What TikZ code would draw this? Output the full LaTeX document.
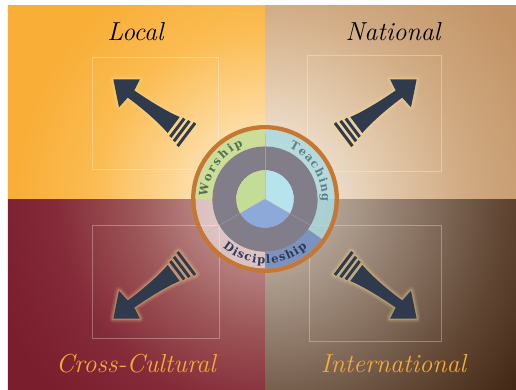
\documentclass[tikz,border=0pt]{standalone}
\usepackage{fontspec}
\usepackage{tikz}
\usetikzlibrary{decorations.text}

\newfontfamily\ringserif{DejaVu Serif}

% 色
\definecolor{ringorange}{HTML}{C47834}
\definecolor{ringgray}{HTML}{827E89}
\definecolor{wgreen}{HTML}{C3DD97}
\definecolor{tblue}{HTML}{B7E3EC}
\definecolor{dblue}{HTML}{8DA9D9}
\definecolor{bandgreen}{HTML}{C6DD96}
\definecolor{bandteal}{HTML}{A8DAE2}
\definecolor{bandblue}{HTML}{7A92C0}
\definecolor{arrowblue}{HTML}{2F3A4D}
\definecolor{glowyellow}{HTML}{F7DC8C}
\definecolor{labelorange}{HTML}{F5AA3A}
\definecolor{wtext}{HTML}{55704E}
\definecolor{ttext}{HTML}{5E8089}
\definecolor{dtext}{HTML}{2D3A5A}

% 背景の色
\definecolor{tlA}{HTML}{FFF6E8}\definecolor{tlB}{HTML}{FEE9C6}\definecolor{tlC}{HTML}{FDD592}
\definecolor{tlD}{HTML}{FBBC52}\definecolor{tlE}{HTML}{F9AE38}
\definecolor{trA}{HTML}{F8F4EE}\definecolor{trB}{HTML}{F1E6D8}\definecolor{trC}{HTML}{E2C8AA}
\definecolor{trD}{HTML}{D0AA82}\definecolor{trE}{HTML}{C29365}
\definecolor{blA}{HTML}{CFA8A6}\definecolor{blB}{HTML}{BA8886}\definecolor{blC}{HTML}{9D5758}
\definecolor{blD}{HTML}{842A38}\definecolor{blE}{HTML}{7A1D2C}
\definecolor{brA}{HTML}{CEC3B9}\definecolor{brB}{HTML}{B7A89A}\definecolor{brC}{HTML}{8B7565}
\definecolor{brD}{HTML}{5F4532}\definecolor{brE}{HTML}{3C200F}

\pgfdeclareradialshading{shadelocal}{\pgfpoint{0bp}{0bp}}{color(0bp)=(tlA); color(3bp)=(tlB); color(7.3bp)=(tlC); color(12.9bp)=(tlD); color(18.9bp)=(tlE); color(50bp)=(tlE)}
\pgfdeclareradialshading{shadenational}{\pgfpoint{0bp}{0bp}}{color(0bp)=(trA); color(3bp)=(trB); color(9.1bp)=(trC); color(15.2bp)=(trD); color(22.7bp)=(trE); color(50bp)=(trE)}
\pgfdeclareradialshading{shadecross}{\pgfpoint{0bp}{0bp}}{color(0bp)=(blA); color(4.5bp)=(blB); color(9.8bp)=(blC); color(15.9bp)=(blD); color(21.8bp)=(blE); color(50bp)=(blE)}
\pgfdeclareradialshading{shadeintl}{\pgfpoint{0bp}{0bp}}{color(0bp)=(brA); color(4.5bp)=(brB); color(11.4bp)=(brC); color(18.2bp)=(brD); color(25bp)=(brE); color(50bp)=(brE)}

% 矢印の形
\newcommand{\flarepath}{(75.7,0) -- (54.5,-16.1) -- (52.3,-3.8)
  .. controls (30,-4.8) and (12,-7) .. (0,-10) -- (0,10)
  .. controls (12,7.5) and (30,5.6) .. (53.2,5.8) -- (54.3,18.9) -- cycle
  (-6,-11.5) rectangle (-3,11.5)
  (-11.5,-12.8) rectangle (-8.5,12.8)
  (-17.3,-14.5) rectangle (-14.3,14.5)}
\newcommand{\ringfont}{\ringserif\bfseries\fontsize{11.5}{13}\selectfont}

\begin{document}
\begin{tikzpicture}[x=1pt, y=1pt,
    quadlabel/.style={font=\itshape\fontsize{26}{30}\selectfont, anchor=base, inner sep=0pt},
    framebox/.style={draw=white, draw opacity=.3, line width=.6pt},
    glowline/.style={glowyellow, line join=round},
    ringtext/.style={decorate, font=\ringfont}]

    \useasboundingbox (-265,-190) rectangle (251,199);
    \fill[white] (-265,-190) rectangle (251,199);

    % 背景
    \foreach \sh/\xa/\ya/\xb/\yb in {shadelocal/-257/0/0/194, shadenational/0/0/251/194,
                                     shadecross/-257/-190/0/0, shadeintl/0/-190/251/0} {
        \begin{scope}
            \clip (\xa,\ya) rectangle (\xb,\yb);
            \shade[shading=\sh] (-330,-330) rectangle (330,330);
        \end{scope}
    }

    % 枠
    \draw[framebox] (-173,142) rectangle (-47,30);
    \draw[framebox] (42,144) rectangle (176,28);
    \draw[framebox] (-173,-26) rectangle (-46,-139);
    \draw[framebox] (44,-26) rectangle (176,-142);

    % 矢印
    \foreach \sx/\sy in {1/1, -1/1, 1/-1, -1/-1} {
        \begin{scope}[xscale=\sx, yscale=\sy, shift={(-91.3,74)}, rotate=142.9]
            \draw[glowline, opacity=.1, line width=8pt] \flarepath;
            \draw[glowline, opacity=.15, line width=5pt] \flarepath;
            \draw[glowline, opacity=.25, line width=2.5pt] \flarepath;
            \fill[arrowblue] \flarepath;
        \end{scope}
    }

    % 外側の帯
    \foreach \a/\b/\c/\o in {90/180/bandgreen/.9, 180/270/white/.5, 270/325/bandblue/.95, -35/90/bandteal/.8}
        \fill[\c, opacity=\o] (\a:69.5) arc[start angle=\a, end angle=\b, radius=69.5]
            -- (\b:52.6) arc[start angle=\b, end angle=\a, radius=52.6] -- cycle;

    % 灰色のリング
    \fill[ringgray, even odd rule] (0,0) circle (52.6) (0,0) circle (28.7);

    % 中心の扇形
    \fill[wgreen] (0,0) -- (90:28.7) arc[start angle=90, end angle=210, radius=28.7] -- cycle;
    \fill[dblue] (0,0) -- (210:28.7) arc[start angle=210, end angle=330, radius=28.7] -- cycle;
    \fill[tblue] (0,0) -- (-30:28.7) arc[start angle=-30, end angle=90, radius=28.7] -- cycle;
    \foreach \a in {90, 210, 330}
        \draw[gray!60, opacity=.6, line width=.4pt] (0,0) -- (\a:66);

    % オレンジのリング
    \draw[ringorange, line width=4.3pt] (0,0) circle (71.8);

    % 帯の文字
    \path[ringtext, decoration={text along path, text align={fit to path},
        text color=wtext, text={|\ringfont|Worship}}] (178:57.5) arc[start angle=178, end angle=112, radius=57.5];
    \path[ringtext, decoration={text along path, text align={fit to path},
        text color=ttext, text={|\ringfont|Teaching}}] (65:57) arc[start angle=65, end angle=-3, radius=57];
    \path[ringtext, decoration={text along path, text align={fit to path},
        text color=dtext, text={|\ringfont|Discipleship}}] (229:64.5) arc[start angle=229, end angle=311, radius=64.5];

    % ラベル
    \node[quadlabel] (local) at (-129.5,159) {Local};
    \node[quadlabel] (national) at (128,159) {National};
    \node[quadlabel, labelorange] (crosscult) at (-129,-173) {Cross-Cultural};
    \node[quadlabel, labelorange] (intl) at (128.5,-173) {International};
\end{tikzpicture}
\end{document}
